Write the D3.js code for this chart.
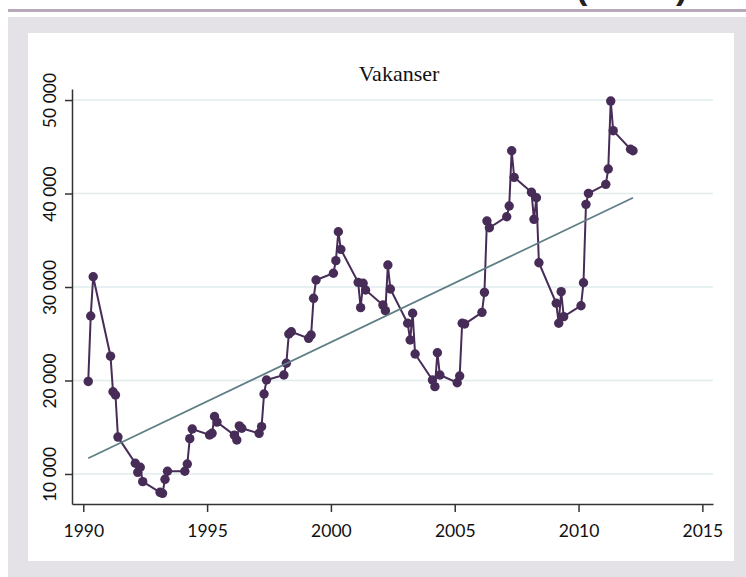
<!DOCTYPE html>
<html>
<head>
<meta charset="utf-8">
<script src="https://cdn.jsdelivr.net/npm/d3@7"></script>
<style>
  body { margin: 0; background: #fff; }
  svg { display: block; }
</style>
</head>
<body>
<div id="graph"></div>
<script>
// quarterly observations, x is year.quarter (1990.2 = 2. kvartal 1990)
const periods = [
  1990.2, 1990.3, 1990.4,
  1991.1, 1991.2, 1991.3, 1991.4,
  1992.1, 1992.2, 1992.3, 1992.4,
  1993.1, 1993.2, 1993.3, 1993.4,
  1994.1, 1994.2, 1994.3, 1994.4,
  1995.1, 1995.2, 1995.3, 1995.4,
  1996.1, 1996.2, 1996.3, 1996.4,
  1997.1, 1997.2, 1997.3, 1997.4,
  1998.1, 1998.2, 1998.3, 1998.4,
  1999.1, 1999.2, 1999.3, 1999.4,
  2000.1, 2000.2, 2000.3, 2000.4,
  2001.1, 2001.2, 2001.3, 2001.4,
  2002.1, 2002.2, 2002.3, 2002.4,
  2003.1, 2003.2, 2003.3, 2003.4,
  2004.1, 2004.2, 2004.3, 2004.4,
  2005.1, 2005.2, 2005.3, 2005.4,
  2006.1, 2006.2, 2006.3, 2006.4,
  2007.1, 2007.2, 2007.3, 2007.4,
  2008.1, 2008.2, 2008.3, 2008.4,
  2009.1, 2009.2, 2009.3, 2009.4,
  2010.1, 2010.2, 2010.3, 2010.4,
  2011.1, 2011.2, 2011.3, 2011.4,
  2012.1, 2012.2
];

const vakanser = [
  19900, 26900, 31100,
  22600, 18800, 18450, 13950,
  11150, 10180, 10720, 9180,
  8040, 7930, 9430, 10290,
  10290, 11070, 13780, 14810,
  14170, 14350, 16150, 15550,
  14150, 13640, 15150, 14890,
  14350, 15060, 18560, 20050,
  20590, 21840, 24970, 25220,
  24510, 24870, 28790, 30750,
  31470, 32820, 35910, 34030,
  30500, 27790, 30400, 29680,
  28070, 27470, 32350, 29790,
  26120, 24330, 27190, 22830,
  20050, 19340, 22970, 20590,
  19760, 20480, 26120, 26040,
  27290, 29430, 37060, 36340,
  37520, 38660, 44580, 41730,
  40130, 37240, 39550, 32600,
  28260, 26120, 29500, 26830,
  28000, 30460, 38840, 40020,
  40980, 42620, 49890, 46720,
  44730, 44580
];

// linear trend, endpoints
const trendX = [1990.2, 2012.2];
const trendY = [11680, 39550];

const xTicks = [1990, 1995, 2000, 2005, 2010, 2015];
const yTicks = [10000, 20000, 30000, 40000, 50000];
const title = "Vakanser";

const width = 746, height = 577;
const lineColor = "#472c58",
    trendColor = "#5e7e85",
    gridColor = "#e1ecec",
    axisColor = "#333333";

const svg = d3.select("#graph")
    .append("svg")
    .attr("width", width)
    .attr("height", height);

// page header remnant (cut off at the top, as in the source page) + frame
svg.append("text")
    .attr("x", 576)
    .attr("y", -1)
    .attr("font-family", "Liberation Sans, Arial, sans-serif")
    .attr("font-weight", "bold")
    .attr("font-size", 34)
    .attr("fill", "#222")
    .text("(antall)");

svg.append("rect")
    .attr("x", 8).attr("y", 9)
    .attr("width", width - 8).attr("height", 3)
    .attr("fill", "#b7a9b9");

svg.append("rect")
    .attr("x", 8).attr("y", 17)
    .attr("width", width - 8).attr("height", height - 17)
    .attr("fill", "#e4e2e7");

svg.append("rect")
    .attr("x", 28).attr("y", 33)
    .attr("width", 706).attr("height", 528)
    .attr("fill", "#ffffff");

// scales
const xRange = d3.scaleLinear()
    .domain([1989.544, 2015.43])
    .range([72, 713]);

const yRange = d3.scaleLinear()
    .domain([6790, 51180])
    .range([504, 89]);

const fmt = (d) => d3.format(",")(d).replace(/,/g, " ");

// grid
svg.append("g")
    .selectAll("line")
    .data(yTicks)
    .enter()
    .append("line")
    .attr("x1", xRange.range()[0])
    .attr("x2", xRange.range()[1])
    .attr("y1", (d) => yRange(d))
    .attr("y2", (d) => yRange(d))
    .attr("stroke", gridColor)
    .attr("stroke-width", 1.5);

// axes
const xAxis = d3.axisBottom(xRange)
    .tickValues(xTicks)
    .tickFormat(d3.format("d"))
    .tickSizeInner(8)
    .tickSizeOuter(0)
    .tickPadding(8);

const yAxis = d3.axisLeft(yRange)
    .tickValues(yTicks)
    .tickFormat(fmt)
    .tickSizeInner(7)
    .tickSizeOuter(0);

const gx = svg.append("g")
    .attr("transform", "translate(0," + yRange.range()[0] + ")")
    .call(xAxis);

const gy = svg.append("g")
    .attr("transform", "translate(" + xRange.range()[0] + ",0)")
    .call(yAxis);

[gx, gy].forEach(function(g) {
    g.select(".domain").attr("stroke", axisColor).attr("stroke-width", 1.5);
    g.selectAll(".tick line").attr("stroke", axisColor).attr("stroke-width", 1.5);
    g.selectAll("text")
        .attr("font-family", "Lato, 'Open Sans', sans-serif")
        .attr("font-size", 17.5)
        .attr("fill", "#111");
});

gx.selectAll("text").attr("dy", "0.95em");

gy.selectAll(".tick text")
    .attr("x", null)
    .attr("dy", null)
    .attr("text-anchor", "middle")
    .attr("transform", "translate(-16,0) rotate(-90)");

// title
svg.append("text")
    .attr("x", 399)
    .attr("y", 81)
    .attr("text-anchor", "middle")
    .attr("font-family", "Liberation Serif, serif")
    .attr("font-size", 22)
    .attr("fill", "#111")
    .text(title);

// data
const data = periods.map((p, i) => ({ x: p, y: vakanser[i] }));

svg.append("path")
    .datum(data)
    .attr("fill", "none")
    .attr("stroke", lineColor)
    .attr("stroke-width", 2)
    .attr("d", d3.line().x((d) => xRange(d.x)).y((d) => yRange(d.y)));

svg.append("g")
    .selectAll("circle")
    .data(data)
    .enter()
    .append("circle")
    .attr("cx", (d) => xRange(d.x))
    .attr("cy", (d) => yRange(d.y))
    .attr("r", 4.7)
    .attr("fill", lineColor);

// trend line drawn on top
svg.append("path")
    .datum(trendX.map((x, i) => ({ x: x, y: trendY[i] })))
    .attr("fill", "none")
    .attr("stroke", trendColor)
    .attr("stroke-width", 1.7)
    .attr("d", d3.line().x((d) => xRange(d.x)).y((d) => yRange(d.y)));
</script>
</body>
</html>
